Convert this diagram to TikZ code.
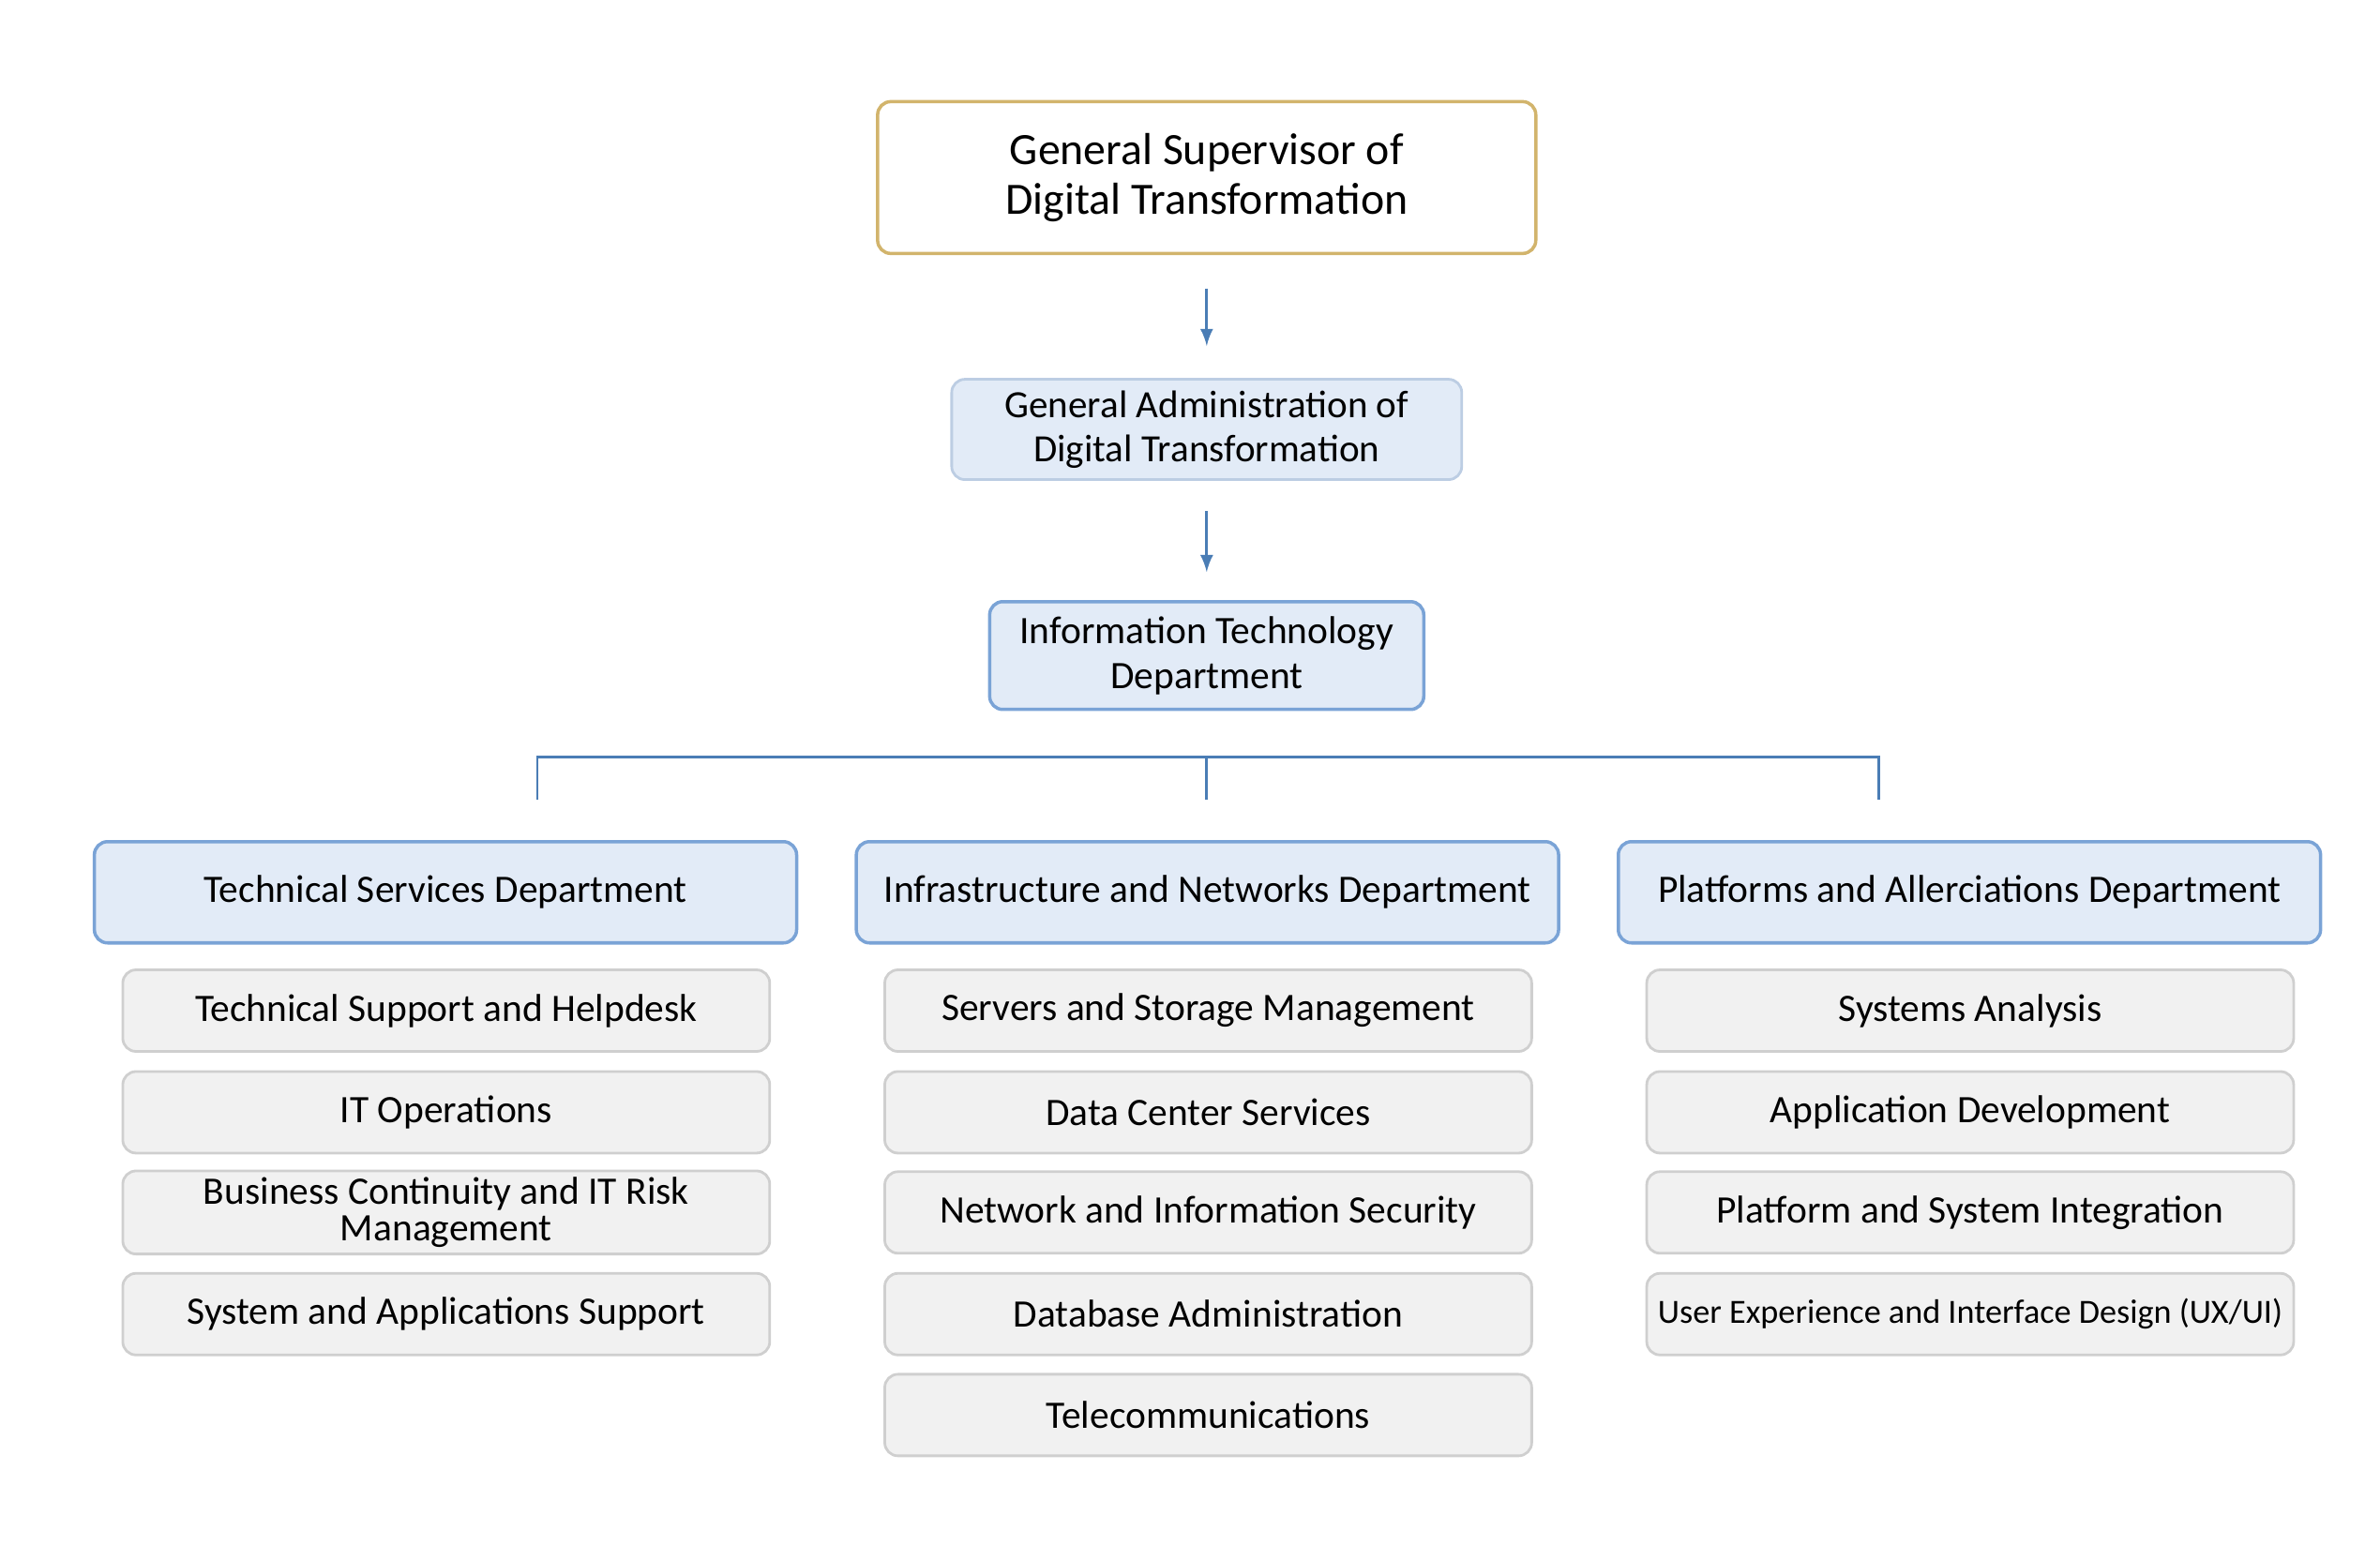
\documentclass[tikz,border=0pt]{standalone}
\usepackage{fontspec}
\setmainfont{Carlito}
\usetikzlibrary{positioning}
\definecolor{linkblue}{HTML}{4A7DB5}
\definecolor{goldline}{HTML}{D2B46C}
\definecolor{deptfill}{HTML}{E2EBF7}
\definecolor{deptline}{HTML}{7AA3D6}
\definecolor{adminline}{HTML}{BCCDE3}
\definecolor{unitfill}{HTML}{F1F1F1}
\definecolor{unitline}{HTML}{CFCFCF}
\tikzset{
  topbox/.style={draw=goldline, line width=1pt, fill=white, rounded corners=4pt,
    minimum width=7.02cm, minimum height=1.62cm, align=center, font=\fontsize{13.6}{15}\selectfont},
  adminbox/.style={draw=adminline, line width=0.8pt, fill=deptfill, rounded corners=4pt,
    minimum width=5.44cm, minimum height=1.07cm, align=center, font=\fontsize{11.7}{13.5}\selectfont},
  itbox/.style={draw=deptline, line width=1pt, fill=deptfill, rounded corners=4pt,
    minimum width=4.63cm, minimum height=1.15cm, align=center, font=\fontsize{11.8}{13.5}\selectfont},
  deptbox/.style={draw=deptline, line width=1pt, fill=deptfill, rounded corners=4pt,
    minimum width=7.49cm, minimum height=1.08cm, font=\fontsize{11.8}{13}\selectfont},
  unitbox/.style={draw=unitline, line width=0.8pt, fill=unitfill, rounded corners=4pt,
    minimum width=6.9cm, minimum height=0.87cm, align=center, inner sep=2pt, font=\fontsize{11.8}{11}\selectfont},
  link/.style={draw=linkblue, line width=0.8pt},
}
\begin{document}
\begin{tikzpicture}[x=0.016186cm, y=-0.016186cm, >=latex]
  \useasboundingbox (0,0) rectangle (1568,1028);

  % top of the chart
  \node[topbox] (sup) at (795,117) {General Supervisor of\\Digital Transformation};
  \node[adminbox] (admin) at (795,283) {General Administration of\\Digital Transformation};
  \node[itbox] (itd) at (795,432) {Information Technology\\Department};

  \coordinate (a1) at (795,190); \coordinate (a2) at (795,228);
  \coordinate (b1) at (795,337); \coordinate (b2) at (795,377);
  \draw[link,->] (a1) -- (a2);
  \draw[link,->] (b1) -- (b2);

  % departments
  \node[deptbox] (tech) at (293.5,588) {Technical Services Department};
  \node[deptbox] (infra) at (795.5,588) {Infrastructure and Networks Department};
  \node[deptbox] (plat) at (1297.5,588) {Platforms and Allerciations Department};

  % bus line
  \coordinate (busL) at (354,499); \coordinate (busM) at (795,499); \coordinate (busR) at (1238,499);
  \coordinate (dropL) at (354,527); \coordinate (dropM) at (795,527); \coordinate (dropR) at (1238,527);
  \draw[link] (dropL) -- (busL) -- (busR) -- (dropR);
  \draw[link] (busM) -- (dropM);

  % units
  \foreach \name/\y/\txt in {t1/666/Technical Support and Helpdesk, t2/733/IT Operations,
      t3/799/{Business Continuity and IT Risk\\Management}, t4/866/System and Applications Support}
    \node[unitbox] (\name) at (294,\y) {\txt};
  \foreach \name/\y/\txt in {i1/666/Servers and Storage Management, i2/733/Data Center Services,
      i3/799/Network and Information Security, i4/866/Database Administration, i5/932.5/Telecommunications}
    \node[unitbox] (\name) at (796,\y) {\txt};
  \foreach \name/\y/\txt in {p1/666/Systems Analysis, p2/733/Application Development,
      p3/799/Platform and System Integration}
    \node[unitbox] (\name) at (1298,\y) {\txt};
  \node[unitbox, font=\fontsize{10.3}{11}\selectfont] (p4) at (1298,866) {User Experience and Interface Design (UX/UI)};
\end{tikzpicture}
\end{document}
